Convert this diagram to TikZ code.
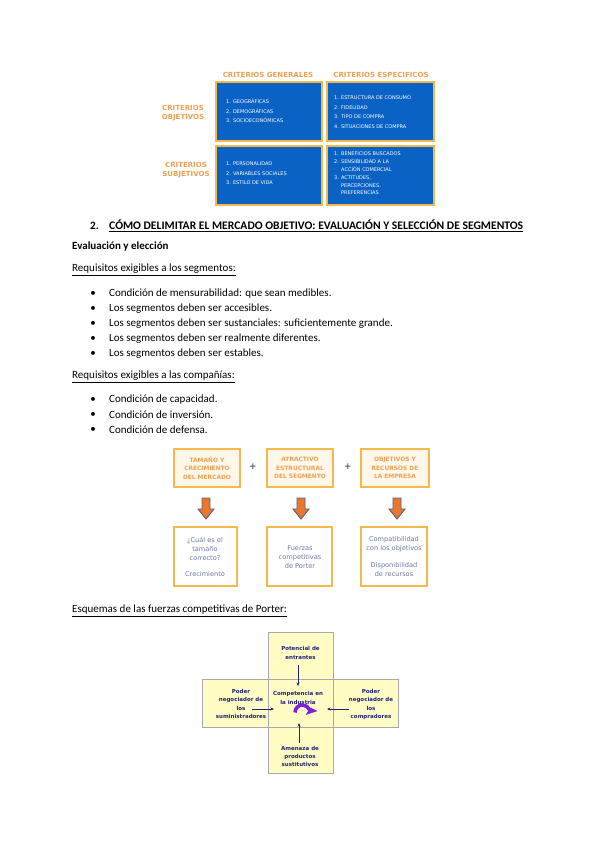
\documentclass[tikz,border=0pt]{standalone}
\usepackage{fontspec}
\setmainfont{Carlito}
\newfontfamily\dvs{DejaVu Sans}
\usetikzlibrary{arrows.meta}
\definecolor{orng}{HTML}{F0A050}
\definecolor{bordo}{HTML}{F4B84C}
\definecolor{bluebox}{HTML}{0A62C4}
\definecolor{cream}{HTML}{FFF8EA}
\definecolor{greytxt}{HTML}{6A78A8}
\definecolor{arrfill}{HTML}{E8792A}
\definecolor{arredge}{HTML}{5E5A86}
\definecolor{porterfill}{HTML}{FFFDC4}
\definecolor{porteredge}{HTML}{A8A8B4}
\definecolor{navy}{HTML}{22227A}
\definecolor{purp}{HTML}{7A22E0}
\begin{document}
\begin{tikzpicture}[x=1pt,y=-1pt,
  hdr/.style={font=\dvs\bfseries\fontsize{7}{8}\selectfont, text=orng, inner sep=0},
  bbox/.style={draw=bordo, line width=1.2pt, fill=bluebox},
  item/.style={font=\dvs\fontsize{5}{5}\selectfont, text=white, anchor=west, inner sep=0},
  body/.style={font=\fontsize{11}{12}\selectfont, anchor=west, inner sep=0},
  bul/.style={font=\fontsize{11}{12}\selectfont, inner sep=0},
  obox/.style={draw=bordo, line width=1.3pt, fill=cream},
  otxt/.style={font=\dvs\bfseries\fontsize{5.9}{8.4}\selectfont, text=orng, align=center, inner sep=0},
  wbox/.style={draw=bordo, line width=1.3pt, fill=white},
  gtxt/.style={font=\dvs\fontsize{6.6}{9}\selectfont, text=greytxt, align=center, inner sep=0},
  ptxt/.style={font=\dvs\bfseries\fontsize{5.5}{8.2}\selectfont, text=navy, align=center, inner sep=0},
  parr/.style={navy, line width=1pt, -{Stealth[length=3.5pt,width=3pt]}},
  blockarr/.style={fill=arrfill, draw=arredge, line width=0.9pt}
]
\useasboundingbox (0,0) rectangle (599,848);
\fill[white] (0,0) rectangle (599,848);

% ---------- top table ----------
\node[hdr] (hg) at (268,75) {CRITERIOS GENERALES};
\node[hdr] (he) at (381,75) {CRITERIOS ESPECIFICOS};
\node[hdr, align=center, font=\dvs\bfseries\fontsize{7}{9}\selectfont] (lo) at (183,113) {CRITERIOS\\OBJETIVOS};
\node[hdr, align=center, font=\dvs\bfseries\fontsize{7}{9}\selectfont] (ls) at (186,170) {CRITERIOS\\SUBJETIVOS};
\draw[bbox] (216,82) rectangle (322,141);
\draw[bbox] (327,82) rectangle (434,141);
\draw[bbox] (216,146) rectangle (322,205);
\draw[bbox] (327,146) rectangle (434,205);
\node[item] (a1) at (226,101) {1. GEOGRÁFICAS};
\node[item] (a2) at (226,111) {2. DEMOGRÁFICAS};
\node[item] (a3) at (226,120.5) {3. SOCIOECONÓMICAS};
\node[item] (b1) at (334,98) {1. ESTRUCTURA DE CONSUMO};
\node[item] (b2) at (334,107.5) {2. FIDELIDAD};
\node[item] (b3) at (334,117) {3. TIPO DE COMPRA};
\node[item] (b4) at (334,126.5) {4. SITUACIONES DE COMPRA};
\node[item] (c1) at (226,164) {1. PERSONALIDAD};
\node[item] (c2) at (226,173.5) {2. VARIABLES SOCIALES};
\node[item] (c3) at (226,183) {3. ESTILO DE VIDA};
\node[item] (d1) at (334,154) {1. BENEFICIOS BUSCADOS};
\node[item] (d2) at (334,162) {2. SENSIBILIDAD A LA};
\node[item] (d2b) at (341,169.5) {ACCIÓN COMERCIAL};
\node[item] (d3) at (334,178) {3. ACTITUDES,};
\node[item] (d3b) at (341,185.5) {PERCEPCIONES,};
\node[item] (d3c) at (341,193) {PREFERENCIAS};

% ---------- text ----------
\node[body, font=\bfseries\fontsize{11.2}{12}\selectfont] (n2) at (90,226) {2.};
\node[body, font=\bfseries\fontsize{11.6}{12}\selectfont] (tit) at (109,226) {\underline{CÓMO DELIMITAR EL MERCADO OBJETIVO: EVALUACIÓN Y SELECCIÓN DE SEGMENTOS}};
\node[body, font=\bfseries\fontsize{11}{12}\selectfont] (ev) at (72,247) {Evaluación y elección};
\node[body] (rs) at (72,270) {\underline{Requisitos exigibles a los segmentos:}};
\foreach \y/\t [count=\i] in {294/{Condición de mensurabilidad: que sean medibles.},
  309/{Los segmentos deben ser accesibles.},
  324/{Los segmentos deben ser sustanciales: suficientemente grande.},
  339/{Los segmentos deben ser realmente diferentes.},
  354/{Los segmentos deben ser estables.}}{
  \node[bul] (bs\i) at (93,\y) {•};
  \node[body] (ts\i) at (109,\y) {\t};
}
\node[body] (rc) at (72,377) {\underline{Requisitos exigibles a las compañías:}};
\foreach \y/\t [count=\i] in {400/{Condición de capacidad.},
  415/{Condición de inversión.},
  430/{Condición de defensa.}}{
  \node[bul] (bc\i) at (93,\y) {•};
  \node[body] (tc\i) at (109,\y) {\t};
}

% ---------- evaluation boxes ----------
\draw[obox] (174,449) rectangle (240,487);
\draw[obox] (267,449) rectangle (333,487);
\draw[obox] (361,449) rectangle (429,487);
\node[otxt] (o1) at (207,468) {TAMAÑO Y\\CRECIMIENTO\\DEL MERCADO};
\node[otxt] (o2) at (300,468) {ATRACTIVO\\ESTRUCTURAL\\DEL SEGMENTO};
\node[otxt] (o3) at (395,468) {OBJETIVOS Y\\RECURSOS DE\\LA EMPRESA};
\node[font=\dvs\bfseries\fontsize{9}{9}\selectfont, text=arredge, inner sep=0] (p1) at (253,467) {+};
\node[font=\dvs\bfseries\fontsize{9}{9}\selectfont, text=arredge, inner sep=0] (p2) at (348,467) {+};
\foreach \cx in {206,301,397}{
  \draw[blockarr] (\cx-4,498) -- (\cx+4,498) -- (\cx+4,509) -- (\cx+8,509) -- (\cx,519) -- (\cx-8,509) -- (\cx-4,509) -- cycle;
}
\draw[wbox] (174,527) rectangle (237,586);
\draw[wbox] (267,527) rectangle (332,586);
\draw[wbox] (361,527) rectangle (427,586);
\node[gtxt] (g1) at (205,549) {¿Cuál es el\\tamaño\\correcto?};
\node[gtxt] (g1b) at (205,574) {Crecimiento};
\node[gtxt] (g2) at (300,557) {Fuerzas\\competitivas\\de Porter};
\node[gtxt] (g3) at (394,544.5) {Compatibilidad\\con los objetivos};
\node[gtxt] (g3b) at (394,569.5) {Disponibilidad\\de recursos};

% ---------- Porter ----------
\node[body] (esq) at (72,611) {\underline{Esquemas de las fuerzas competitivas de Porter:}};
\fill[porterfill] (268,632) rectangle (333,773);
\fill[porterfill] (202,679) rectangle (398,727);
\draw[porteredge, line width=0.8pt] (268,679) -- (268,632) -- (333,632) -- (333,679) -- (398,679) -- (398,727) -- (333,727) -- (333,773) -- (268,773) -- (268,727) -- (202,727) -- (202,679) -- cycle;
\draw[porteredge, line width=0.6pt] (268,679) rectangle (333,727);
\node[ptxt] (pt) at (300.5,653) {Potencial de\\entrantes};
\node[ptxt] (pc) at (298,698) {Competencia en\\la industria};
\node[ptxt] (pl) at (241,704) {Poder\\negociador de\\los\\suministradores};
\node[ptxt] (pr) at (371,704.5) {Poder\\negociador de\\los\\compradores};
\node[ptxt] (pb) at (300,756.5) {Amenaza de\\productos\\sustitutivos};
\coordinate (t1) at (298,665); \coordinate (t2) at (298,686);
\draw[parr] (t1) -- (t2);
\coordinate (l1) at (252,709); \coordinate (l2) at (274,709);
\draw[parr] (l1) -- (l2);
\coordinate (r1) at (349,709); \coordinate (r2) at (327,709);
\draw[parr] (r1) -- (r2);
\coordinate (u1) at (299,743); \coordinate (u2) at (299,723);
\draw[parr] (u1) -- (u2);
\draw[purp, line width=3.6pt] (295,712.5) arc[start angle=180, end angle=340, radius=7.5];
\fill[purp] (305.5,715) -- (317.5,711) -- (310.5,707.5) -- cycle;
\end{tikzpicture}
\end{document}
